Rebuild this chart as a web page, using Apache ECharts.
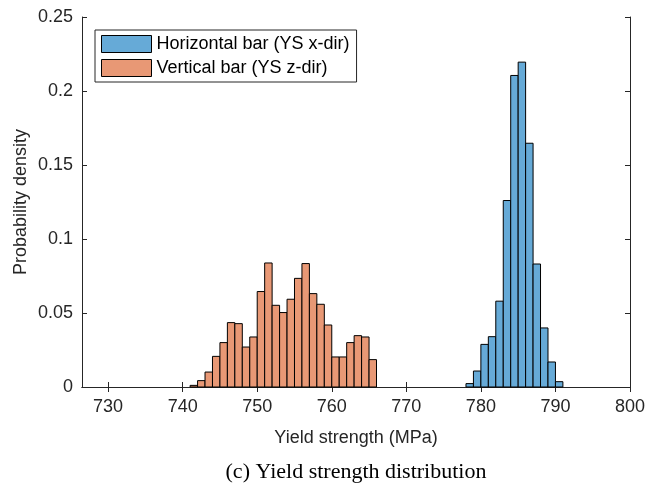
<!DOCTYPE html>
<html>
<head>
<meta charset="utf-8">
<script src="https://cdn.jsdelivr.net/npm/echarts@6/dist/echarts.min.js"></script>
<style>
  html, body { margin: 0; padding: 0; background: #fff; }
  #main { width: 655px; height: 491px; }
</style>
</head>
<body>
<div id="main"></div>
<script>
// histogram bins (left edge of each 1 MPa bin) and densities
var binWidth = 1;
var horizStarts = [778, 779, 780, 781, 782, 783, 784, 785, 786, 787, 788, 789, 790];
var horizDensity = [0.0023, 0.0108, 0.0288, 0.034, 0.058, 0.126, 0.2105, 0.2195, 0.1647, 0.0831, 0.0399, 0.0169, 0.0036];

var vertStarts = [741, 742, 743, 744, 745, 746, 747, 748, 749, 750, 751, 752, 753,
  754, 755, 756, 757, 758, 759, 760, 761, 762, 763, 764, 765];
var vertDensity = [0.0011, 0.0043, 0.0101, 0.0207, 0.030, 0.0435, 0.0428, 0.027, 0.0338,
  0.0645, 0.0838, 0.0552, 0.0503, 0.0593, 0.0734, 0.0834, 0.0631, 0.0559, 0.0419,
  0.0203, 0.0203, 0.030, 0.0347, 0.0338, 0.0185];

var xTicks = [730, 740, 750, 760, 770, 780, 790, 800];
var seriesNames = ['Horizontal bar (YS x-dir)', 'Vertical bar (YS z-dir)'];

function toBins(starts, dens) {
  return starts.map(function (s, i) { return [s, s + binWidth, dens[i]]; });
}

function renderBin(params, api) {
  var p0 = api.coord([api.value(0), api.value(2)]);
  var p1 = api.coord([api.value(1), 0]);
  return {
    type: 'rect',
    shape: { x: p0[0], y: p0[1], width: p1[0] - p0[0], height: p1[1] - p0[1] },
    style: { fill: api.visual('color'), stroke: '#000', lineWidth: 1 }
  };
}

var font = 'Liberation Sans, Arial, Helvetica, sans-serif';
var axisColor = '#262626';

var myChart = echarts.init(document.getElementById('main'));

var option = {
  animation: false,
  backgroundColor: '#fff',
  textStyle: { fontFamily: font },
  grid: { left: 82, right: 25, top: 17, bottom: 104 },
  legend: {
    orient: 'vertical',
    left: 95,
    top: 30,
    data: seriesNames,
    itemWidth: 50,
    itemHeight: 17,
    itemGap: 6,
    padding: [5, 7, 5, 6],
    borderColor: axisColor,
    borderWidth: 1,
    backgroundColor: '#fff',
    icon: 'rect',
    itemStyle: { borderColor: '#000', borderWidth: 1 },
    textStyle: { fontSize: 18, color: '#000', fontFamily: font, padding: [0, 0, 0, 0] }
  },
  xAxis: [{
    type: 'value',
    min: 726.5,
    max: 800,
    name: 'Yield strength (MPa)',
    nameLocation: 'middle',
    nameGap: 42,
    nameTextStyle: { fontSize: 18, color: axisColor, fontFamily: font },
    axisLine: { lineStyle: { color: axisColor, width: 1 } },
    axisTick: { inside: true, length: 5, customValues: xTicks, lineStyle: { color: axisColor } },
    axisLabel: { customValues: xTicks, fontSize: 18, color: axisColor, margin: 11, fontFamily: font },
    splitLine: { show: false }
  }, {
    type: 'value',
    position: 'top',
    min: 726.5,
    max: 800,
    axisLine: { show: true, lineStyle: { color: axisColor, width: 1 } },
    axisTick: { inside: true, length: 5, customValues: xTicks, lineStyle: { color: axisColor } },
    axisLabel: { show: false },
    splitLine: { show: false }
  }],
  yAxis: [{
    type: 'value',
    min: 0,
    max: 0.25,
    interval: 0.05,
    name: 'Probability density',
    nameLocation: 'middle',
    nameGap: 52,
    nameMoveOverlap: false,
    nameTextStyle: { fontSize: 18, color: axisColor, fontFamily: font },
    axisLine: { show: true, lineStyle: { color: axisColor, width: 1 } },
    axisTick: { show: true, inside: true, length: 5, lineStyle: { color: axisColor } },
    axisLabel: { fontSize: 18, color: axisColor, margin: 9, fontFamily: font },
    splitLine: { show: false }
  }, {
    type: 'value',
    position: 'right',
    min: 0,
    max: 0.25,
    interval: 0.05,
    axisLine: { show: true, lineStyle: { color: axisColor, width: 1 } },
    axisTick: { show: true, inside: true, length: 5, lineStyle: { color: axisColor } },
    axisLabel: { show: false },
    splitLine: { show: false }
  }],
  graphic: [{
    type: 'text',
    x: 356,
    y: 472,
    style: {
      text: '(c) Yield strength distribution',
      font: '22px "Liberation Serif", "DejaVu Serif", serif',
      fill: '#000',
      textAlign: 'center',
      textVerticalAlign: 'middle'
    }
  }],
  series: [{
    name: seriesNames[0],
    type: 'custom',
    renderItem: renderBin,
    itemStyle: { color: '#66aad7' },
    encode: { x: [0, 1], y: 2 },
    data: toBins(horizStarts, horizDensity)
  }, {
    name: seriesNames[1],
    type: 'custom',
    renderItem: renderBin,
    itemStyle: { color: '#e89875' },
    encode: { x: [0, 1], y: 2 },
    data: toBins(vertStarts, vertDensity)
  }]
};

myChart.setOption(option);
</script>
</body>
</html>
